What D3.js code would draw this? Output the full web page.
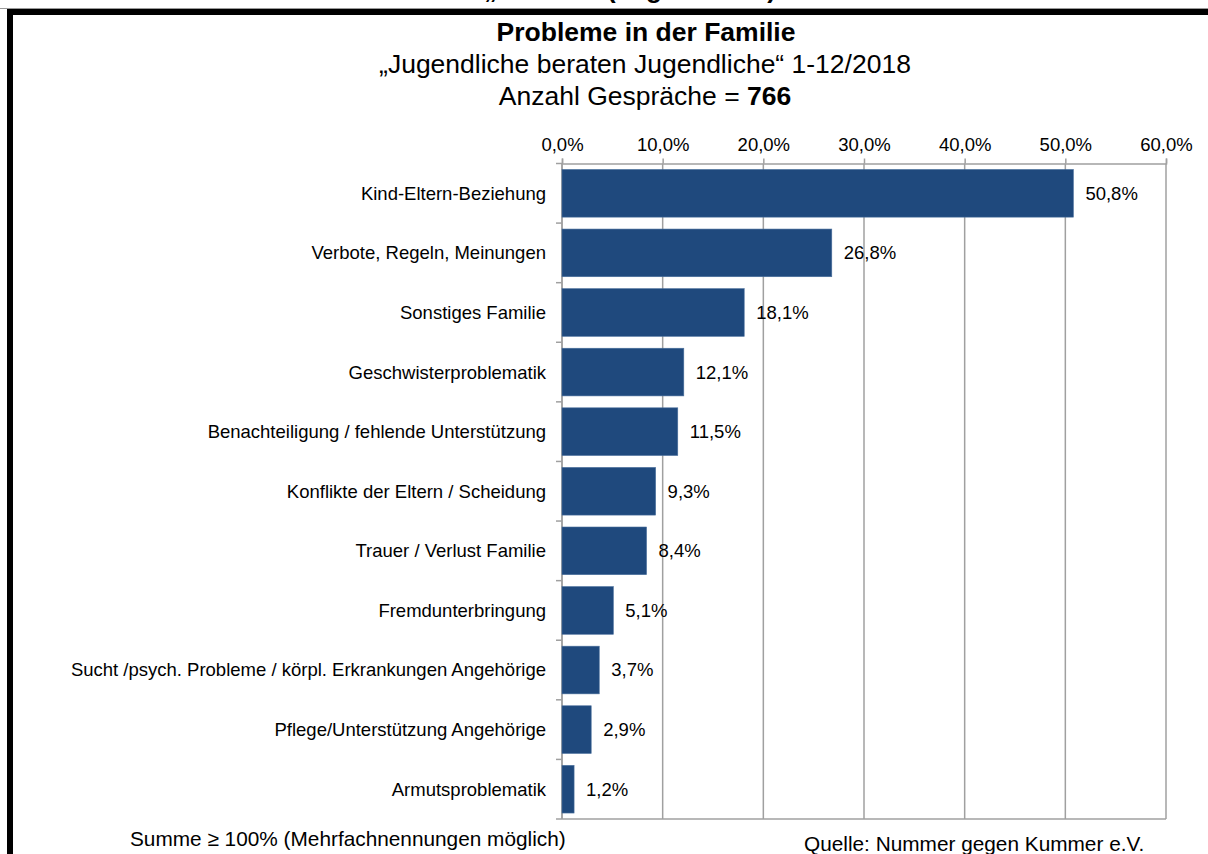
<!DOCTYPE html>
<html>
<head>
<meta charset="utf-8">
<script src="https://cdn.jsdelivr.net/npm/d3@7"></script>
<style>
  body { margin: 0; background: #fff; }
  svg { display: block; font-family: 'Liberation Sans', Arial, sans-serif; }
</style>
</head>
<body>
<svg id="chart" width="1208" height="854"></svg>
<script>
const categories = [
  'Kind-Eltern-Beziehung',
  'Verbote, Regeln, Meinungen',
  'Sonstiges Familie',
  'Geschwisterproblematik',
  'Benachteiligung / fehlende Unterstützung',
  'Konflikte der Eltern / Scheidung',
  'Trauer / Verlust Familie',
  'Fremdunterbringung',
  'Sucht /psych. Probleme / körpl. Erkrankungen Angehörige',
  'Pflege/Unterstützung Angehörige',
  'Armutsproblematik'
];
const values = [50.8, 26.8, 18.1, 12.1, 11.5, 9.3, 8.4, 5.1, 3.7, 2.9, 1.2];
const xTicks = [0, 10, 20, 30, 40, 50, 60];

const svg = d3.select('#chart');
const fmt = v => d3.format('.1f')(v).replace('.', ',') + '%';

const plot = { left: 562, right: 1166, top: 163.5, bottom: 819 };

// outer frame (cut by the window edges)
svg.append('line')
  .attr('x1', 0).attr('x2', 1208).attr('y1', 8.5).attr('y2', 8.5)
  .attr('stroke', '#999').attr('stroke-width', 1);
svg.append('rect')
  .attr('x', 10).attr('y', 12)
  .attr('width', 1240).attr('height', 900)
  .attr('fill', 'none').attr('stroke', '#000').attr('stroke-width', 6);

// heading of the previous block, mostly above the window
svg.append('text')
  .attr('x', 630).attr('y', -2)
  .attr('text-anchor', 'middle')
  .style('font-size', '26px').style('font-weight', 'bold')
  .text('„Familie“ (Jugendliche)');

// titles
svg.append('text')
  .attr('x', 646).attr('y', 41)
  .attr('text-anchor', 'middle')
  .style('font-size', '26.5px').style('font-weight', 'bold')
  .text('Probleme in der Familie');
svg.append('text')
  .attr('x', 645).attr('y', 73)
  .attr('text-anchor', 'middle')
  .style('font-size', '26.5px')
  .text('„Jugendliche beraten Jugendliche“ 1-12/2018');
const t3 = svg.append('text')
  .attr('x', 645).attr('y', 105)
  .attr('text-anchor', 'middle')
  .style('font-size', '26.5px');
t3.append('tspan').text('Anzahl Gespräche = ');
t3.append('tspan').style('font-weight', 'bold').text('766');

const x = d3.scaleLinear().domain([0, 60]).range([plot.left, plot.right]);
const y = d3.scaleBand().domain(categories).range([plot.top, plot.bottom]).paddingInner(0.2).paddingOuter(0.1);
const yLines = d3.scaleBand().domain(categories).range([plot.top, plot.bottom]);

// gridlines
svg.append('g')
  .selectAll('line')
  .data(xTicks)
  .join('line')
  .attr('x1', d => x(d)).attr('x2', d => x(d))
  .attr('y1', plot.top).attr('y2', plot.bottom)
  .attr('stroke', '#a0a0a0').attr('stroke-width', 1.5);

// top axis
const xAxis = d3.axisTop(x)
  .tickValues(xTicks)
  .tickSize(5)
  .tickPadding(8)
  .tickFormat(fmt);
const gx = svg.append('g')
  .attr('transform', `translate(0,${plot.top})`)
  .call(xAxis);
gx.select('.domain').attr('stroke', '#a0a0a0').attr('stroke-width', 1.5);
gx.selectAll('.tick line').attr('stroke', '#a0a0a0').attr('stroke-width', 1.5);
gx.selectAll('.tick text')
  .style('font-size', '18.5px').style('font-family', 'Liberation Sans, Arial, sans-serif')
  .attr('fill', '#000');

// bottom line
svg.append('line')
  .attr('x1', plot.left).attr('x2', plot.right)
  .attr('y1', plot.bottom).attr('y2', plot.bottom)
  .attr('stroke', '#a0a0a0').attr('stroke-width', 1.5);

// left axis: ticks on band boundaries
const leftAxis = svg.append('g');
leftAxis.append('line')
  .attr('x1', plot.left).attr('x2', plot.left)
  .attr('y1', plot.top).attr('y2', plot.bottom)
  .attr('stroke', '#a0a0a0').attr('stroke-width', 1.5);
leftAxis.selectAll('line.tk')
  .data(categories.map(c => yLines(c)).concat([plot.bottom]))
  .join('line')
  .attr('class', 'tk')
  .attr('x1', plot.left - 6).attr('x2', plot.left)
  .attr('y1', d => d).attr('y2', d => d)
  .attr('stroke', '#a0a0a0').attr('stroke-width', 1.5);

leftAxis.selectAll('text')
  .data(categories)
  .join('text')
  .attr('x', plot.left - 16)
  .attr('y', d => yLines(d) + yLines.bandwidth() / 2)
  .attr('dy', '0.35em')
  .attr('text-anchor', 'end')
  .style('font-size', '18.5px')
  .text(d => d);

// bars
svg.append('g')
  .selectAll('rect')
  .data(values)
  .join('rect')
  .attr('x', x(0))
  .attr('y', (d, i) => y(categories[i]))
  .attr('width', d => x(d) - x(0))
  .attr('height', y.bandwidth())
  .attr('fill', '#1f497d')
  .attr('stroke', '#4a6f9c').attr('stroke-width', 0.6);

// value labels
svg.append('g')
  .selectAll('text')
  .data(values)
  .join('text')
  .attr('x', d => x(d) + 12)
  .attr('y', (d, i) => y(categories[i]) + y.bandwidth() / 2)
  .attr('dy', '0.35em')
  .style('font-size', '18.5px')
  .text(d => fmt(d));

// footer
svg.append('text')
  .attr('x', 130).attr('y', 846)
  .style('font-size', '20.8px')
  .text('Summe ≥ 100% (Mehrfachnennungen möglich)');
svg.append('text')
  .attr('x', 804).attr('y', 851)
  .style('font-size', '20.8px')
  .text('Quelle: Nummer gegen Kummer e.V.');
</script>
</body>
</html>
